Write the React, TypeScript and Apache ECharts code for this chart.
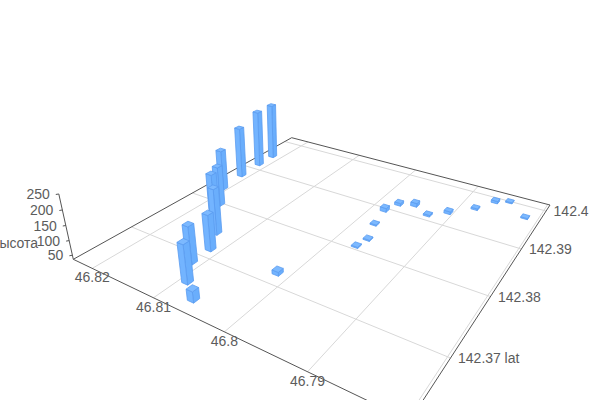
import React, { useEffect, useRef } from "react";
import * as echarts from "echarts";

// Axis ticks
const lonTicks = [46.78, 46.79, 46.8, 46.81, 46.82];
const latTicks = [142.37, 142.38, 142.39, 142.4];
const heightTicks = [50, 100, 150, 200, 250];

// Data
const lons = [46.82153, 46.82146, 46.82125, 46.82074, 46.81794, 46.81635, 46.81326, 46.81134, 46.81129, 46.80897, 46.8062, 46.80155, 46.79814, 46.79727, 46.7953, 46.79272, 46.79066, 46.78801, 46.78634, 46.78466, 46.7816, 46.79754, 46.79649, 46.7969];
const lats = [142.39473, 142.39153, 142.38747, 142.3832, 142.37972, 142.37712, 142.37441, 142.37151, 142.36857, 142.36579, 142.36402, 142.3719, 142.38951, 142.39182, 142.39267, 142.39132, 142.39321, 142.39595, 142.39893, 142.39991, 142.39709, 142.38599, 142.38269, 142.38073];
const heights = [247, 248, 223, 183, 178, 191, 195, 160, 163, 166, 72, 49, 50, 46, 50, 42, 46, 42, 45, 40, 40, 40, 40, 40];

const LON_MIN = 46.7797, LON_MAX = 46.8234, LAT_MIN = 142.3621, LAT_MAX = 142.4018, H_MIN = 36, H_MAX = 250;

// Camera: floor corners on screen and the vanishing point of the height axis
const A = [73.3, 259.3], D = [409.7, 420.8], C = [550, 205], B = [291.7, 137.7];
const VP = [302, 1290];
const KV = -0.0596;
const dx1 = D[0] - C[0], dx2 = B[0] - C[0], sx = A[0] - D[0] + C[0] - B[0];
const dy1 = D[1] - C[1], dy2 = B[1] - C[1], sy = A[1] - D[1] + C[1] - B[1];
const den = dx1 * dy2 - dx2 * dy1;
const g = (sx * dy2 - dx2 * sy) / den, h = (dx1 * sy - sx * dy1) / den;
const a = D[0] - A[0] + g * D[0], b = B[0] - A[0] + h * B[0], c0 = A[0];
const d = D[1] - A[1] + g * D[1], e = B[1] - A[1] + h * B[1], f0 = A[1];

function depth(lon: number, lat: number) {
  const s = (LON_MAX - lon) / (LON_MAX - LON_MIN), t = (lat - LAT_MIN) / (LAT_MAX - LAT_MIN);
  return g * s + h * t + 1;
}
function proj(lon: number, lat: number, hv: number) {
  const s = (LON_MAX - lon) / (LON_MAX - LON_MIN), t = (lat - LAT_MIN) / (LAT_MAX - LAT_MIN), w = (hv - H_MIN) / (H_MAX - H_MIN);
  const q = w * KV;
  const X = a * s + b * t + c0 + q * VP[0], Y = d * s + e * t + f0 + q * VP[1], W = g * s + h * t + 1 + q;
  return [X / W, Y / W];
}

const DL = 0.00045, DT = 0.00042;
const EDGE = "#5b9cf0";
const TEXT = "#5c5c5c";
const FONT = "Liberation Sans";

export default function App() {
  const ref = useRef<HTMLDivElement>(null);
  useEffect(() => {
    document.body.style.margin = "0";
    const chart = echarts.init(ref.current!, undefined, { renderer: "svg" });
    const bars = lons
      .map((lon, i) => [lon, lats[i], heights[i]])
      .sort((p, q) => depth(q[0], q[1]) - depth(p[0], p[1]));

    const line = (p: number[], q: number[], stroke: string) => ({
      type: "line", silent: true,
      shape: { x1: p[0], y1: p[1], x2: q[0], y2: q[1] },
      style: { stroke, lineWidth: 1 },
    });
    const label = (text: string, p: number[], dx: number, dy: number, align: string) => ({
      type: "text", silent: true, x: p[0] + dx, y: p[1] + dy,
      style: { text, fill: TEXT, font: `14px "${FONT}"`, align, verticalAlign: "middle" },
    });

    const graphic: any[] = [];
    lonTicks.forEach((v) => graphic.push(line(proj(v, LAT_MIN, H_MIN), proj(v, LAT_MAX, H_MIN), "#d8d8d8")));
    latTicks.forEach((v) => graphic.push(line(proj(LON_MAX, v, H_MIN), proj(LON_MIN, v, H_MIN), "#d8d8d8")));
    const [pA, pB, pC, pD] = [
      proj(LON_MAX, LAT_MIN, H_MIN), proj(LON_MAX, LAT_MAX, H_MIN),
      proj(LON_MIN, LAT_MAX, H_MIN), proj(LON_MIN, LAT_MIN, H_MIN),
    ];
    graphic.push(line(pA, pB, "#555"), line(pB, pC, "#555"), line(pC, pD, "#555"), line(pD, pA, "#555"));
    graphic.push(line(pA, proj(LON_MAX, LAT_MIN, H_MAX), "#555"));
    heightTicks.forEach((v) => {
      const p = proj(LON_MAX, LAT_MIN, v);
      graphic.push(line(p, [p[0] - 3, p[1] + 0.5], "#555"));
      graphic.push(label(String(v), p, -9, 0, "right"));
    });
    lonTicks.forEach((v) => {
      if (v > 46.785) graphic.push(label(String(v), proj(v, LAT_MIN, H_MIN), 0, 9, "center"));
    });
    latTicks.forEach((v) => graphic.push(label(String(v), proj(LON_MIN, v, H_MIN), 7.5, 0, "left")));
    graphic.push(label("lat", proj(LON_MIN, 142.37, H_MIN), 54, 0, "left"));
    graphic.push(label("высота", proj(LON_MAX, LAT_MIN, 100), -31, 2, "right"));

    chart.setOption({
      animation: false,
      graphic: { elements: graphic.map((g2) => ({ ...g2, z: -1 })) },
      series: [{
        type: "custom", coordinateSystem: "none", data: bars, z: 5,
        renderItem: (_: any, api: any) => {
          const lon = api.value(0), lat = api.value(1), hv = api.value(2);
          const l0 = lon - DL, l1 = lon + DL, a0 = lat - DT, a1 = lat + DT;
          const P = (p: number[][]) => ({ points: p });
          return { type: "group", children: [
            { type: "polygon", shape: P([proj(l0, a0, H_MIN), proj(l0, a1, H_MIN), proj(l0, a1, hv), proj(l0, a0, hv)]), style: { fill: "#6aaefc", stroke: EDGE, lineWidth: 0.8 } },
            { type: "polygon", shape: P([proj(l0, a0, H_MIN), proj(l1, a0, H_MIN), proj(l1, a0, hv), proj(l0, a0, hv)]), style: { fill: "#73b4ff", stroke: EDGE, lineWidth: 0.8 } },
            { type: "polygon", shape: P([proj(l0, a0, hv), proj(l1, a0, hv), proj(l1, a1, hv), proj(l0, a1, hv)]), style: { fill: "#7cb9ff", stroke: EDGE, lineWidth: 0.8 } },
          ] };
        },
      }],
    });
    return () => chart.dispose();
  }, []);
  return <div ref={ref} style={{ width: 600, height: 400 }} />;
}
